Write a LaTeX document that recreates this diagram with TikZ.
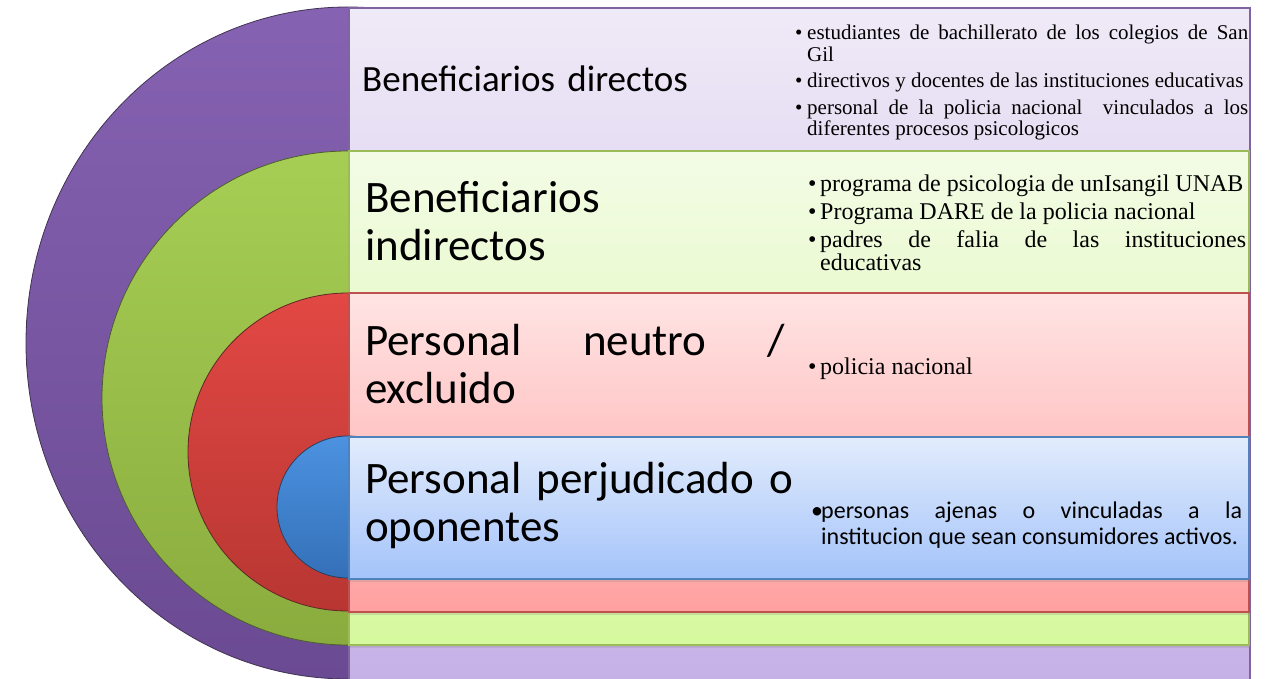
\documentclass[tikz,border=0pt]{standalone}
\usepackage{fontspec}
\setmainfont{Liberation Serif}
\newfontfamily\calibri{Carlito}
\usetikzlibrary{shadows}

\definecolor{lilaLine}{HTML}{8064A2}
\definecolor{verdeLine}{HTML}{9BBB59}
\definecolor{rojoLine}{HTML}{C0504D}
\definecolor{azulLine}{HTML}{4F81BD}

\newcommand{\bul}{\par\noindent\hangindent=12pt\hangafter=1\makebox[12pt][l]{\textbullet}}

\tikzset{
	ring/.style={line width=0.8pt},
	band/.style={line width=1.5pt, drop shadow={opacity=0.22, shadow xshift=0.8pt, shadow yshift=-3pt}},
	heading/.style={anchor=west, inner sep=0pt, align=left, text width=430pt, font=\calibri\fontsize{45}{48}\selectfont},
	items/.style={anchor=west, inner sep=0pt, align=justify, execute at begin node={\setlength{\parskip}{5pt}\hyphenpenalty=10000\tolerance=9999}}
}

\begin{document}
\begin{tikzpicture}[x=1pt, y=-1pt]
			%%%%% START %%%%%
			\useasboundingbox (0, 0) rectangle (1275, 679);
			
			% lila
			\draw[ring, draw=lilaLine!50!black, top color={rgb,255:red,134;green,98;blue,178}, bottom color={rgb,255:red,106;green,74;blue,146}] (348, 343) ellipse [x radius=322, y radius=336];
			\draw[band, draw=lilaLine, top color={rgb,255:red,239;green,234;blue,247}, bottom color={rgb,255:red,197;green,176;blue,230}] (349, 8) rectangle (1250, 692);
			
			% verde
			\draw[ring, draw=verdeLine!50!black, top color={rgb,255:red,166;green,206;blue,84}, bottom color={rgb,255:red,138;green,172;blue,62}] (348, 398) ellipse [x radius=246, y radius=247];
			\draw[band, draw=verdeLine, top color={rgb,255:red,243;green,251;blue,230}, bottom color={rgb,255:red,214;green,248;blue,158}] (349, 151) rectangle (1249, 645);
			
			% rojo
			\draw[ring, draw=rojoLine!50!black, top color={rgb,255:red,226;green,72;blue,68}, bottom color={rgb,255:red,184;green,54;blue,50}] (348, 452) ellipse [x radius=160, y radius=159];
			\draw[band, draw=rojoLine, top color={rgb,255:red,255;green,228;blue,228}, bottom color={rgb,255:red,255;green,160;blue,160}] (349, 293) rectangle (1249, 612);
			
			% azul
			\draw[ring, draw=azulLine!50!black, top color={rgb,255:red,76;green,146;blue,224}, bottom color={rgb,255:red,52;green,112;blue,184}] (348, 507) ellipse [x radius=71, y radius=71];
			\draw[band, draw=azulLine, top color={rgb,255:red,226;green,236;blue,252}, bottom color={rgb,255:red,164;green,195;blue,250}] (349, 437) rectangle (1249, 579);
			
			% titulos
			\node[heading, font=\calibri\fontsize{37}{44}\selectfont] (tDirectos) at (362, 79) {Beneficiarios directos};
			\node[heading] (tIndirectos) at (365, 221) {Beneficiarios\\indirectos};
			\node[heading, align=justify, text width=420pt] (tNeutro) at (365, 364) {Personal neutro /\linebreak excluido};
			\node[heading] (tPerjudicado) at (365, 506) {Personal perjudicado o\\oponentes};
			
			% listas
			\node[items, text width=453pt, font=\fontsize{21}{21.5}\selectfont] (lDirectos) at (795, 77) {%
				\bul estudiantes de bachillerato de los colegios de San\linebreak Gil
				\bul directivos y docentes de las instituciones educativas
				\bul personal de la policia nacional\ \ vinculados a los\linebreak diferentes procesos psicologicos\par};
			\node[items, text width=438pt, font=\fontsize{24}{23}\selectfont] (lIndirectos) at (808, 217) {%
				\bul programa de psicologia de unIsangil UNAB
				\bul Programa DARE de la policia nacional
				\bul padres de falia de las instituciones\linebreak educativas\par};
			\node[items, text width=438pt, font=\fontsize{24}{23}\selectfont] (lNeutro) at (808, 363) {%
				\bul policia nacional\par};
			\node[items, text width=431pt, font=\calibri\fontsize{24}{26}\selectfont] (lPerjudicado) at (811, 525) {%
				\noindent\hangindent=10pt\hangafter=1\makebox[10pt][l]{\textbullet}personas ajenas o vinculadas a la\linebreak institucion que sean consumidores activos.\par};
			%%%%% END %%%%%
\end{tikzpicture}
\end{document}
